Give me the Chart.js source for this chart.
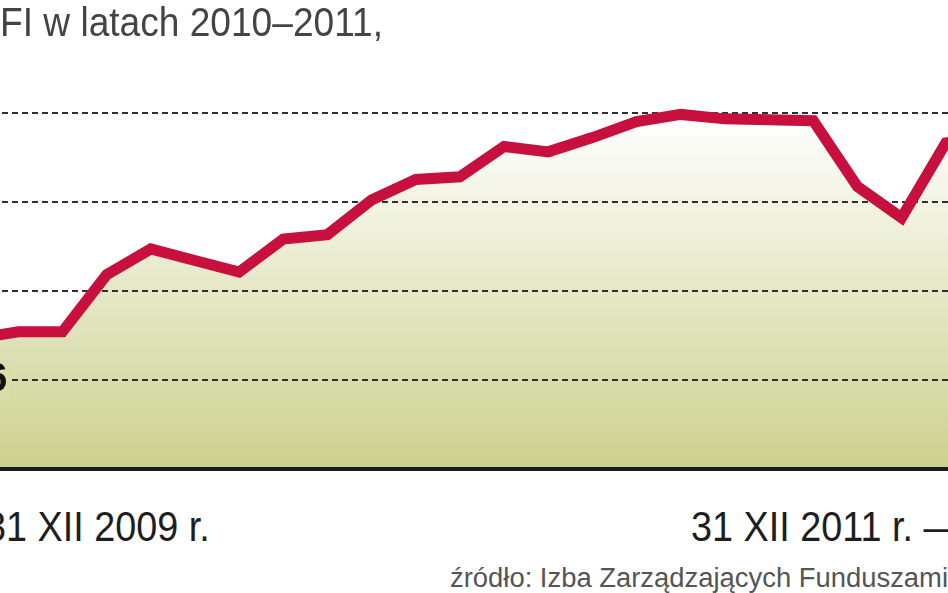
<!DOCTYPE html>
<html>
<head>
<meta charset="utf-8">
<script src="https://cdn.jsdelivr.net/npm/chart.js@4.4.1/dist/chart.umd.min.js"></script>
<style>
    html, body { margin: 0; padding: 0; background: #fff; }
    body {
        width: 948px; height: 593px; overflow: hidden; position: relative;
        font-family: "Liberation Sans Narrow", "Liberation Sans", sans-serif;
    }
    #wrap { position: absolute; left: -80px; top: 0; width: 1100px; height: 500px; }
    .txt { position: absolute; white-space: nowrap; line-height: 1; transform-origin: 0 0; }
    #title { left: 0; top: 2px; font-size: 40px; color: #444; }
    #from { right: 738px; top: 506px; font-size: 42px; color: #1e1e1e; transform-origin: 100% 0; }
    #to { left: 691px; top: 506px; font-size: 42px; color: #1e1e1e; }
    #source { left: 450px; top: 565px; font-size: 27px; color: #555; }
</style>
</head>
<body>
<div id="wrap"><canvas id="assetsChart"></canvas></div>
<div class="txt" id="title"><span class="m"></span></div>
<div class="txt" id="from"><span class="m"></span></div>
<div class="txt" id="to"><span class="m"></span><span class="tail"></span></div>
<div class="txt" id="source"><span class="m"></span></div>

<script>
// monthly values, XII 2009 .. XI 2011
const months = ['XII 2009', 'I 2010', 'II 2010', 'III 2010', 'IV 2010', 'V 2010', 'VI 2010',
    'VII 2010', 'VIII 2010', 'IX 2010', 'X 2010', 'XI 2010', 'XII 2010', 'I 2011', 'II 2011',
    'III 2011', 'IV 2011', 'V 2011', 'VI 2011', 'VII 2011', 'VIII 2011', 'IX 2011', 'X 2011', 'XI 2011'];
const assets = [100.6, 101.4, 101.4, 107.8, 110.7, 109.4, 108.1, 111.8, 112.3, 116.2, 118.5, 118.8,
    122.2, 121.6, 123.2, 125.0, 125.8, 125.3, 125.2, 125.1, 117.7, 114.2, 122.6, 123.5];
const yTicks = [86, 96, 106, 116, 126];
const yLabelled = [96];

const titleText = 'FI w latach 2010–2011,';
const dateLabels = ['31 XII 2009 r.', '31 XII 2011 r.'];
const sourceText = 'źródło: Izba Zarządzających Funduszami';

document.querySelector('#title .m').textContent = titleText;
document.querySelector('#from .m').textContent = dateLabels[0];
document.querySelector('#to .m').textContent = dateLabels[1];
document.querySelector('#to .tail').textContent = ' —';
document.querySelector('#source .m').textContent = sourceText;

// squeeze text to the widths seen in the picture
function fitText(id, targetWidth) {
    const el = document.getElementById(id);
    const w = el.querySelector('.m').getBoundingClientRect().width;
    const s = targetWidth / w;
    el.style.transform = 'scaleX(' + s + ')';
    return s;
}
fitText('title', 383);
const dateScale = fitText('to', 222);
document.getElementById('from').style.transform = 'scaleX(' + dateScale + ')';
fitText('source', 498);

const ctx = document.getElementById('assetsChart').getContext('2d');
const assetsChart = new Chart(ctx, {
    type: 'line',
    data: {
        labels: months,
        datasets: [{
            data: assets,
            borderColor: '#c8103e',
            borderWidth: 11,
            borderJoinStyle: 'miter',
            borderCapStyle: 'butt',
            pointRadius: 0,
            tension: 0,
            fill: 'start',
            backgroundColor: function(context) {
                const chart = context.chart;
                const area = chart.chartArea;
                if (!area) return 'rgba(0,0,0,0)';
                const top = chart.scales.y.getPixelForValue(126);
                const g = chart.ctx.createLinearGradient(0, top, 0, area.bottom);
                g.addColorStop(0, '#ffffff');
                g.addColorStop(1, '#ccd18e');
                return g;
            }
        }]
    },
    options: {
        responsive: true,
        maintainAspectRatio: false,
        animation: false,
        devicePixelRatio: 1,
        layout: { padding: { left: 10, right: 8, top: 77, bottom: 31 } },
        plugins: {
            legend: { display: false },
            tooltip: { enabled: false },
            filler: { drawTime: 'beforeDraw' }
        },
        scales: {
            x: {
                offset: true,
                grid: { display: false, drawTicks: false },
                ticks: { display: false },
                border: { display: true, color: '#1b1b1b', width: 4 }
            },
            y: {
                min: 86,
                max: 130,
                afterBuildTicks: function(axis) {
                    axis.ticks = yTicks.map(v => ({ value: v }));
                },
                grid: { color: '#2f2f2f', lineWidth: 2, drawTicks: false },
                border: { display: false, dash: [6, 4] },
                ticks: {
                    mirror: true,
                    padding: 11,
                    color: '#111',
                    font: { family: 'Liberation Sans', size: 40, weight: 'bold', lineHeight: 1 },
                    showLabelBackdrop: function(c) { return yLabelled.includes(c.tick.value); },
                    backdropColor: 'rgb(218,221,171)',
                    backdropPadding: { top: 0, bottom: 0, left: 0, right: 2 },
                    callback: function(value) {
                        return yLabelled.includes(value) ? String(value) : '';
                    }
                }
            }
        }
    }
});
</script>
</body>
</html>
